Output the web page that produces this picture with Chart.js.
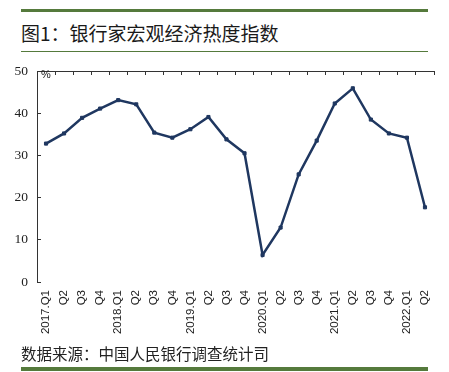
<!DOCTYPE html>
<html>
<head>
<meta charset="utf-8">
<script src="https://cdn.jsdelivr.net/npm/chart.js@4"></script>
<style>
  body { margin: 0; background: #fff; }
  #wrap { position: relative; width: 449px; height: 372px; overflow: hidden; }
  .bar { position: absolute; left: 21px; width: 407px; background: #557a3c; }
  #title { position: absolute; left: 21px; top: 22px; font: 19px/22px "Noto Sans CJK SC", sans-serif; color: #1a1a1a; }
  #src { position: absolute; left: 21px; top: 344px; font: 15.5px/18px "Noto Sans CJK SC", sans-serif; color: #222; }
  #unit { position: absolute; left: 41px; top: 68px; font: 11px "Liberation Sans", sans-serif; color: #222; }
  canvas { position: absolute; left: 0; top: 0; }
</style>
</head>
<body>
<div id="wrap">
  <div class="bar" style="top:9px;height:3px"></div>
  <div id="title">图1：银行家宏观经济热度指数</div>
  <div class="bar" style="top:51px;height:1px"></div>
  <canvas id="c" width="449" height="372"></canvas>
  <div id="unit">%</div>
  <div id="src">数据来源：中国人民银行调查统计司</div>
  <div class="bar" style="top:367px;height:4px"></div>
</div>
<script>
// 季度标签
const quarters = [
  "2017.Q1", "Q2", "Q3", "Q4",
  "2018.Q1", "Q2", "Q3", "Q4",
  "2019.Q1", "Q2", "Q3", "Q4",
  "2020.Q1", "Q2", "Q3", "Q4",
  "2021.Q1", "Q2", "Q3", "Q4",
  "2022.Q1", "Q2"
];
// 银行家宏观经济热度指数 (%)
const heatIndex = [
  32.8, 35.2, 38.9, 41.1,
  43.1, 42.1, 35.4, 34.2,
  36.2, 39.1, 33.8, 30.5,
  6.4, 12.9, 25.5, 33.5,
  42.3, 45.9, 38.5, 35.2,
  34.2, 17.7
];
const yTicks = [0, 10, 20, 30, 40, 50];

const navy = '#1f3760';
const axisColor = '#333';

new Chart(document.getElementById('c'), {
  type: 'line',
  data: {
    labels: quarters,
    datasets: [{
      data: heatIndex,
      borderColor: navy,
      backgroundColor: navy,
      borderWidth: 2.5,
      pointStyle: 'rect',
      pointRadius: 2.2,
      pointBorderWidth: 1,
      tension: 0,
      xAxisID: 'x'
    }]
  },
  options: {
    responsive: false,
    animation: false,
    layout: { padding: { left: 0, right: 15, top: 61, bottom: 20 } },
    plugins: { legend: { display: false }, tooltip: { enabled: false } },
    scales: {
      x: {
        type: 'category',
        position: 'bottom',
        offset: true,
        grid: { display: false, drawTicks: false },
        border: { display: false },
        ticks: {
          autoSkip: false,
          minRotation: 90,
          maxRotation: 90,
          padding: 8,
          color: '#222',
          font: { family: 'Liberation Sans', size: 11.5 }
        },
        afterFit: s => { s.height = 70; }
      },
      x2: {
        type: 'category',
        position: 'top',
        labels: quarters,
        offset: true,
        grid: { offset: true, drawOnChartArea: false, tickLength: -4, color: axisColor },
        border: { display: true, color: axisColor, width: 1 },
        ticks: { display: false },
        afterFit: s => { s.height = 10; }
      },
      y: {
        min: 0,
        max: 50,
        afterBuildTicks: s => { s.ticks = yTicks.map(v => ({ value: v })); },
        grid: { drawOnChartArea: false, tickLength: -4, color: axisColor },
        border: { display: true, color: axisColor, width: 1 },
        ticks: {
          padding: 13,
          color: '#222',
          font: { family: 'Liberation Serif', size: 13.5 }
        },
        afterFit: s => { s.width = 37; }
      }
    }
  }
});
</script>
</body>
</html>
